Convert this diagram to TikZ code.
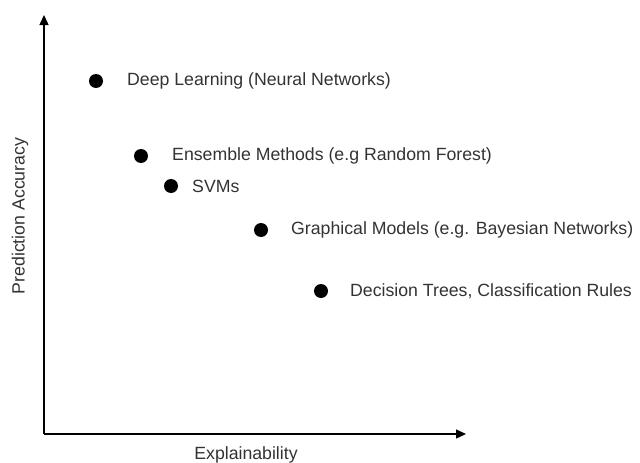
\documentclass[tikz,border=0pt]{standalone}
\usepackage{fontspec}
\setmainfont{Liberation Sans}
\usetikzlibrary{arrows.meta}
\definecolor{txt}{HTML}{333333}
\begin{document}
\begin{tikzpicture}[x=1pt,y=-1pt,
  dot/.style={circle,fill=black,inner sep=0pt,minimum size=14pt},
  lbl/.style={anchor=west,inner sep=0pt,text=txt,font=\fontsize{17.7}{20}\selectfont},
  axis/.style={line width=1.4pt,-{Triangle[length=10pt,width=9pt]}}]
\useasboundingbox (0,0) rectangle (640,463);
\coordinate (o) at (44,434);
\coordinate (ytip) at (44,15);
\coordinate (xtip) at (466,434);
\draw[axis] (o) -- (ytip);
\draw[axis] (o) -- (xtip);
\node[dot] (d1) at (96,81) {};
\node[dot] (d2) at (141,156) {};
\node[dot] (d3) at (171,186) {};
\node[dot] (d4) at (261,230) {};
\node[dot] (d5) at (321,291) {};
\node[lbl] (l1) at (127,81) {Deep Learning (Neural Networks)};
\node[lbl] (l2) at (172,156) {Ensemble Methods (e.g Random Forest)};
\node[lbl] (l3) at (192,186) {SVMs};
\node[lbl] (l4) at (291,230) {Graphical Models (e.g. Bayesian Networks)};
\node[lbl] (l5) at (350,291) {Decision Trees, Classification Rules};
\node[lbl,anchor=center] (xl) at (246,455) {Explainability};
\node[lbl,anchor=center,rotate=90] (yl) at (20,216) {Prediction Accuracy};
\end{tikzpicture}
\end{document}
